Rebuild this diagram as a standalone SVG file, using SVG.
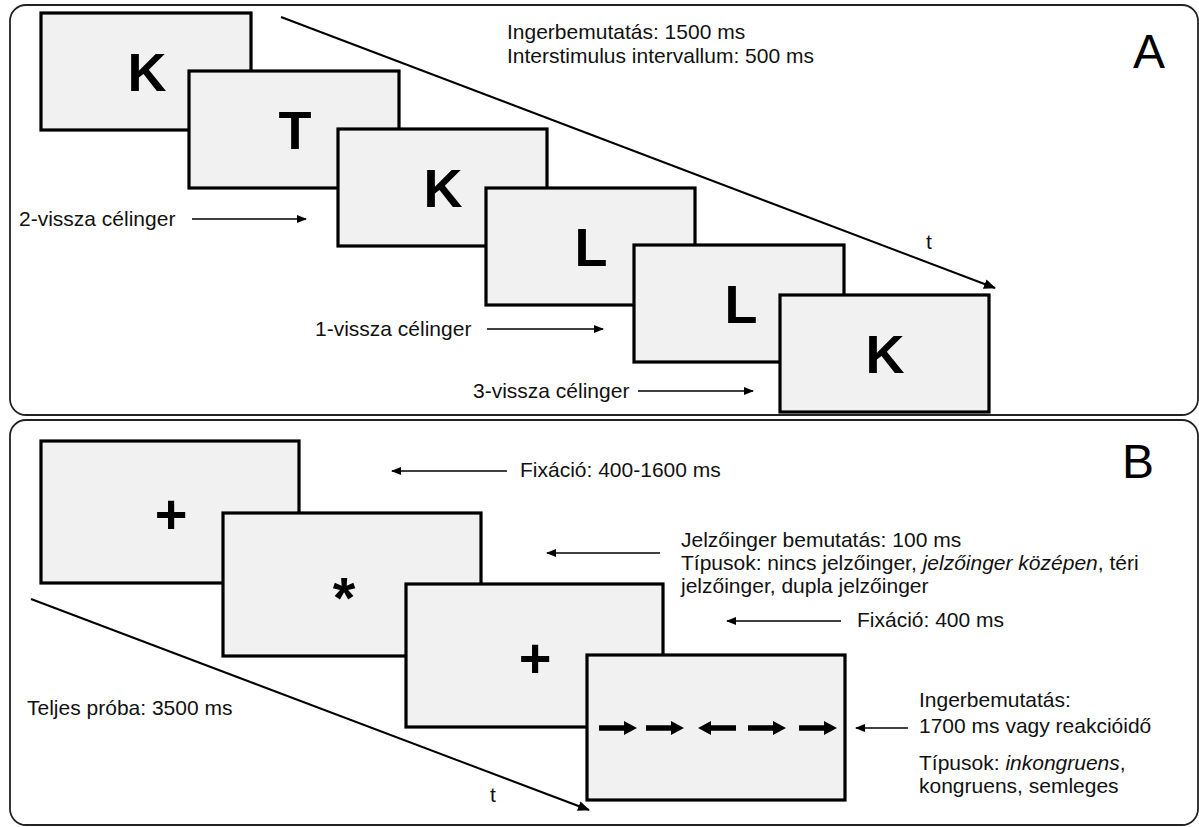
<svg xmlns="http://www.w3.org/2000/svg" width="1199" height="827" viewBox="0 0 1199 827">
<style>
.panel{fill:#fff;stroke:#222;stroke-width:1.8}
.scr{fill:#f1f1f1;stroke:#000;stroke-width:3.2}
.lbl{font-family:"Liberation Sans",Arial,sans-serif;font-size:21px;fill:#111}
.big{font-family:"Liberation Sans",Arial,sans-serif;font-size:48px;fill:#000}
.let{font-family:"Liberation Sans",Arial,sans-serif;font-size:54px;font-weight:bold;fill:#000;text-anchor:middle}
.sym{font-family:"Liberation Sans",Arial,sans-serif;font-weight:bold;fill:#000;text-anchor:middle}
.tl{stroke:#000;stroke-width:2;fill:none}
.ar{stroke:#000;stroke-width:1.6;fill:none}
</style>
<defs>
<marker id="hd" markerWidth="10" markerHeight="8" refX="9" refY="4" orient="auto" markerUnits="userSpaceOnUse">
<path d="M0,0 L10,4 L0,8 Z" fill="#000"/>
</marker>
<marker id="hd2" markerWidth="12" markerHeight="10" refX="11" refY="5" orient="auto" markerUnits="userSpaceOnUse">
<path d="M0,0 L12,5 L0,10 Z" fill="#000"/>
</marker>
<path id="ra" d="M0,-2.7 L25,-2.7 L25,-7 L38,0 L25,7 L25,2.7 L0,2.7 Z" fill="#000"/>
</defs>

<g id="panelA">
<rect class="panel" x="10" y="5" width="1188" height="410" rx="16"/>
<text class="big" x="1133" y="68">A</text>
<text class="lbl" x="507" y="39">Ingerbemutatás: 1500 ms</text>
<text class="lbl" x="507" y="63">Interstimulus intervallum: 500 ms</text>
<text class="lbl" x="926" y="249">t</text>
<text class="lbl" x="19" y="226">2-vissza célinger</text>
<text class="lbl" x="315" y="336">1-vissza célinger</text>
<text class="lbl" x="473" y="398">3-vissza célinger</text>
</g>

<g id="a1"><rect class="scr" x="41" y="13" width="210" height="117"/><text class="let" x="147" y="91">K</text></g>
<g id="a2"><rect class="scr" x="189" y="71" width="210" height="117"/><text class="let" x="295" y="149">T</text></g>
<g id="a3"><rect class="scr" x="338" y="129" width="209" height="117"/><text class="let" x="443" y="207">K</text></g>
<g id="a4"><rect class="scr" x="486" y="188" width="209" height="117"/><text class="let" x="591" y="266">L</text></g>
<g id="a5"><rect class="scr" x="634" y="245" width="210" height="117"/><text class="let" x="741" y="323">L</text></g>
<g id="a6"><rect class="scr" x="780" y="295" width="209" height="117"/><text class="let" x="885" y="373">K</text></g>

<g id="panelB">
<rect class="panel" x="10" y="420" width="1188" height="405" rx="16"/>
<text class="big" x="1122" y="478">B</text>
<text class="lbl" x="520" y="477">Fixáció: 400-1600 ms</text>
<text class="lbl" x="681" y="547">Jelzőinger bemutatás: 100 ms</text>
<text class="lbl" x="681" y="570">Típusok: nincs jelzőinger, <tspan font-style="italic">jelzőinger középen</tspan>, téri</text>
<text class="lbl" x="681" y="593">jelzőinger, dupla jelzőinger</text>
<text class="lbl" x="857" y="627">Fixáció: 400 ms</text>
<text class="lbl" x="27" y="715">Teljes próba: 3500 ms</text>
<text class="lbl" x="490" y="802">t</text>
<text class="lbl" x="919" y="707">Ingerbemutatás:</text>
<text class="lbl" x="919" y="733">1700 ms vagy reakcióidő</text>
<text class="lbl" x="919" y="770">Típusok: <tspan font-style="italic">inkongruens</tspan>,</text>
<text class="lbl" x="919" y="793">kongruens, semleges</text>
</g>

<g id="b1"><rect class="scr" x="41" y="441" width="258" height="142"/><text class="sym" x="171" y="533" font-size="56">+</text></g>
<g id="b2"><rect class="scr" x="223" y="513" width="258" height="143"/><text class="sym" x="344" y="618" font-size="58">*</text></g>
<g id="b3"><rect class="scr" x="406" y="584" width="257" height="143"/><text class="sym" x="535" y="677" font-size="56">+</text></g>
<g id="b4"><rect class="scr" x="587" y="655" width="258" height="145"/>
<use href="#ra" x="599" y="728"/>
<use href="#ra" x="646" y="728"/>
<use href="#ra" transform="translate(736,728) scale(-1,1)"/>
<use href="#ra" x="748" y="728"/>
<use href="#ra" x="799" y="728"/>
</g>

<g id="connectors">
<line class="tl" x1="281" y1="17" x2="995" y2="288" marker-end="url(#hd2)"/>
<line class="tl" x1="31" y1="599" x2="589" y2="810" marker-end="url(#hd2)"/>
<line class="ar" x1="192" y1="219" x2="306" y2="219" marker-end="url(#hd)"/>
<line class="ar" x1="487" y1="329" x2="603" y2="329" marker-end="url(#hd)"/>
<line class="ar" x1="638" y1="391" x2="753" y2="391" marker-end="url(#hd)"/>
<line class="ar" x1="507" y1="471" x2="392" y2="471" marker-end="url(#hd)"/>
<line class="ar" x1="660" y1="553" x2="547" y2="553" marker-end="url(#hd)"/>
<line class="ar" x1="841" y1="621" x2="727" y2="621" marker-end="url(#hd)"/>
<line class="ar" x1="908" y1="728" x2="856" y2="728" marker-end="url(#hd)"/>
</g>
</svg>
